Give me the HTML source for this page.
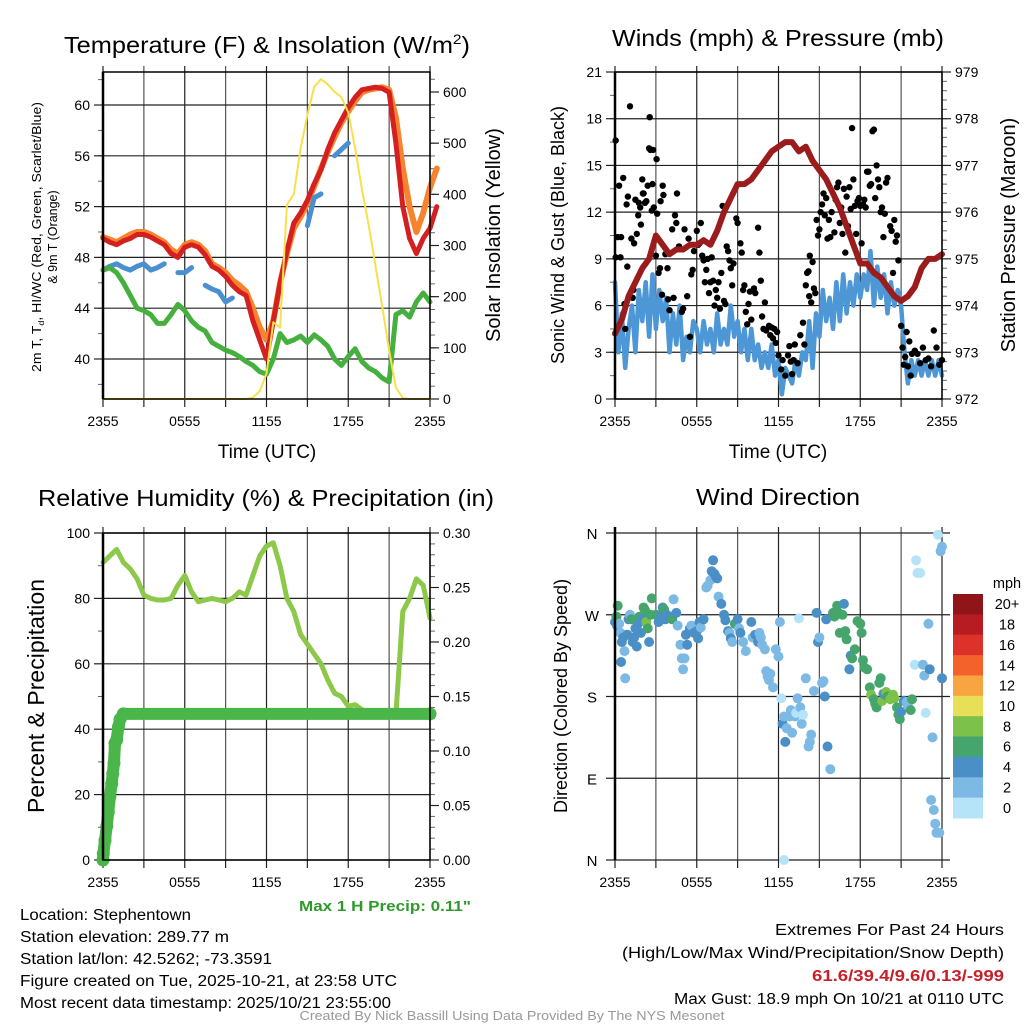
<!DOCTYPE html>
<html><head><meta charset="utf-8"><style>
html,body{margin:0;padding:0;background:#fff;}
svg{display:block;font-family:"Liberation Sans",Arial,sans-serif;}
.t{font-family:"Liberation Sans Narrow","Liberation Sans",sans-serif;}
</style></head><body>
<svg id="fig" width="1024" height="1024" viewBox="0 0 1024 1024" xmlns="http://www.w3.org/2000/svg">
<rect width="1024" height="1024" fill="#fff"/>
<g id="g1"></g>
<g id="g2"></g>
<g id="g3"></g>
<g id="g4"></g>

<text x="267" y="53" font-size="23" text-anchor="middle" textLength="406" lengthAdjust="spacingAndGlyphs">Temperature (F) &amp; Insolation (W/m<tspan font-size="14" dy="-9">2</tspan><tspan dy="9">)</tspan></text>
<text x="778" y="46" font-size="23" text-anchor="middle" textLength="332" lengthAdjust="spacingAndGlyphs">Winds (mph) &amp; Pressure (mb)</text>
<text x="266" y="506" font-size="23" text-anchor="middle" textLength="456" lengthAdjust="spacingAndGlyphs">Relative Humidity (%) &amp; Precipitation (in)</text>
<text x="778" y="505" font-size="23" text-anchor="middle" textLength="164" lengthAdjust="spacingAndGlyphs">Wind Direction</text>

<text x="267" y="458" font-size="19" text-anchor="middle">Time (UTC)</text>
<text x="778" y="458" font-size="19" text-anchor="middle">Time (UTC)</text>

<text transform="translate(41,237) rotate(-90)" font-size="12.5" text-anchor="middle" textLength="270" lengthAdjust="spacingAndGlyphs">2m T, T<tspan font-size="8" dy="3">d</tspan><tspan dy="-3">, HI/WC (Red, Green, Scarlet/Blue)</tspan></text>
<text transform="translate(57,237) rotate(-90)" font-size="12.5" text-anchor="middle">&amp; 9m T (Orange)</text>
<text transform="translate(500,235) rotate(-90)" font-size="20" text-anchor="middle">Solar Insolation (Yellow)</text>
<text transform="translate(564,235) rotate(-90)" font-size="18" text-anchor="middle">Sonic Wind &amp; Gust (Blue, Black)</text>
<text transform="translate(1015,235) rotate(-90)" font-size="20" text-anchor="middle">Station Pressure (Maroon)</text>
<text transform="translate(44,696) rotate(-90)" font-size="23" text-anchor="middle">Percent &amp; Precipitation</text>
<text transform="translate(567,696) rotate(-90)" font-size="18" text-anchor="middle">Direction (Colored By Speed)</text>

<text class="t" x="385" y="911" font-size="15" font-weight="bold" fill="#2e9a2a" text-anchor="middle" textLength="172" lengthAdjust="spacingAndGlyphs">Max 1 H Precip: 0.11"</text>

<g class="t" font-size="15.5">
<text x="20" y="920" textLength="171" lengthAdjust="spacingAndGlyphs">Location: Stephentown</text>
<text x="20" y="942" textLength="209" lengthAdjust="spacingAndGlyphs">Station elevation: 289.77 m</text>
<text x="20" y="964" textLength="252" lengthAdjust="spacingAndGlyphs">Station lat/lon: 42.5262; -73.3591</text>
<text x="20" y="986" textLength="377" lengthAdjust="spacingAndGlyphs">Figure created on Tue, 2025-10-21, at 23:58 UTC</text>
<text x="20" y="1008" textLength="371" lengthAdjust="spacingAndGlyphs">Most recent data timestamp: 2025/10/21 23:55:00</text>
</g>
<g class="t" font-size="15.5" text-anchor="end">
<text x="1004" y="935" textLength="229" lengthAdjust="spacingAndGlyphs">Extremes For Past 24 Hours</text>
<text x="1004" y="958" textLength="382" lengthAdjust="spacingAndGlyphs">(High/Low/Max Wind/Precipitation/Snow Depth)</text>
<text x="1004" y="981" font-weight="bold" fill="#c8202a" textLength="192" lengthAdjust="spacingAndGlyphs">61.6/39.4/9.6/0.13/-999</text>
<text x="1004" y="1004" textLength="330" lengthAdjust="spacingAndGlyphs">Max Gust: 18.9 mph On 10/21 at 0110 UTC</text>
</g>
<text class="t" x="512" y="1020" font-size="12.5" fill="#999" text-anchor="middle" textLength="425" lengthAdjust="spacingAndGlyphs">Created By Nick Bassill Using Data Provided By The NYS Mesonet</text>
</svg>
<script>
// ---------- DATA ----------
const xTickLabels = ["2355","0555","1155","1755","2355"];
const tempTicks = [40,44,48,52,56,60];
const solarTicks = [0,100,200,300,400,500,600];
const windTicks = [0,3,6,9,12,15,18,21];
const pressTicks = [972,973,974,975,976,977,978,979];
const rhTicks = [0,20,40,60,80,100];
const precipTicks = ["0.00","0.05","0.10","0.15","0.20","0.25","0.30"];
const dirTickLabels = ["N","E","S","W","N"];
const speedBinLabels = ["0","2","4","6","8","10","12","14","16","18","20+"];

// half-hour series (index*0.5 h)
const temp2m = [49.5,49.2,49,49.3,49.5,49.8,49.8,49.6,49.3,49,48.3,48,48.8,49,48.8,48.2,47.3,47,46.5,45.8,45.3,45,43,41.5,40,43,46,48.5,50.7,51.5,52.5,53.8,54.9,56.5,57.8,58.8,59.8,60.6,61.2,61.3,61.4,61.3,61,57,52,49.5,48.3,49.5,50.3,52];
const temp9m = [49.6,49.4,49.2,49.5,49.8,50,50,49.8,49.5,49.2,48.6,48.3,49,49.2,49,48.5,47.5,47.2,46.8,46.2,45.8,45.3,44,42.5,41.5,43,46,48.3,50.3,51.2,52.3,53.6,55,56.3,57.5,58.6,59.5,60.3,61,61.2,61.3,61.4,61.2,59,55,52,50,51.5,53.5,55];
const tempHiWc = [47,47.3,47.5,47.2,47,47.3,47.5,47,47.2,47.5,null,46.8,46.8,47.2,null,45.8,45.5,45.3,44.5,44.8,null,43,null,null,null,null,null,null,49.3,null,50.5,52.7,53,null,56,56.5,57,null,null,null,null,null,null,null,null,null,null,null,null,null];
const dewpoint = [47,47.2,46.8,46,45,44,43.8,43.5,42.8,42.8,43.5,44.3,43.8,43,42.5,42.2,41.3,41,40.7,40.5,40.2,39.8,39.5,39,38.8,40,42,41.3,41.5,41.8,41.3,41.9,41.5,41,40,39.5,40.2,40.8,39.8,39.3,39,38.5,38.2,43.5,43.8,43.3,44.5,45.2,44.5];
const solar = [0,0,0,0,0,0,0,0,0,0,0,0,0,0,0,0,0,0,0,0,0,0,3,15,50,150,140,380,400,490,555,610,625,615,600,590,560,490,410,340,260,180,95,22,2,0,0,0,0];
const pressure = [973.4,973.7,974.2,974.5,974.8,975.0,975.5,975.3,975.1,975.2,975.2,975.3,975.3,975.4,975.3,975.6,976.0,976.3,976.6,976.6,976.7,976.9,977.1,977.3,977.4,977.5,977.5,977.3,977.4,977.1,976.9,976.7,976.4,976.1,975.7,975.3,974.9,974.9,974.7,974.6,974.4,974.2,974.1,974.2,974.4,974.8,975.0,975.0,975.1];
const rh = [91,93,95,91,89,86,81,80,79.5,79.5,80,84,87,82,79,79.5,80,79.5,79,80,82,81,87,93,96,97,90,80,76,69,66,63,60,55,51,50,47,47.5,46,45,44.5,44,44.5,44.5,76,80,86,84,74];
// quarter-hour sonic wind
const sonicWind = [7.5,3,5.5,2,4.5,6,3,7,5,7.5,4,8,4.5,7,5,6.5,3,5.5,3.5,6,2.5,4,3,5,4.5,3,5,3.5,4.5,3,5.5,3.5,4.5,3.5,6,4,5,3,4.5,2.5,4.5,2.5,3.5,2,3,2,3.5,1.5,2.5,0.3,2,1.5,1,2.5,1.5,3,2.5,5,2,5.5,4,7,5,6.5,4.5,7.5,5,8,5.5,7.5,6,8,6.5,8,7,9.5,6,8.5,6.5,8,5.5,7.5,6,7,6,3,1,2.5,1.5,2.5,1.5,2.5,1.5,2.5,1.5,2.5,1.5];
const gustTimes = [0.05,0.05,0.2,0.3,0.4,0.45,0.6,0.7,0.75,0.85,0.9,0.95,1.1,1.2,1.3,1.35,1.4,1.5,1.6,1.7,1.75,1.85,1.9,2,2.05,2.1,2.2,2.3,2.4,2.5,2.55,2.6,2.7,2.75,2.8,2.85,3,3.05,3.1,3.2,3.3,3.35,3.45,3.5,3.55,3.7,3.85,3.9,4,4.2,4.3,4.4,4.5,4.55,4.7,4.9,5,5.1,5.3,5.4,5.5,5.6,5.7,5.8,6,6.1,6.2,6.3,6.4,6.5,6.6,6.7,6.8,6.9,7,7.1,7.2,7.3,7.4,7.5,7.6,7.7,7.8,7.9,8,8.1,8.2,8.3,8.4,8.5,8.6,8.7,8.9,9,9.2,9.3,9.4,9.5,9.6,9.7,9.8,9.9,10,10.2,10.3,10.5,10.6,10.7,10.8,10.9,11,11.1,11.3,11.4,11.5,11.6,11.7,11.8,11.9,12,12.2,12.3,12.5,12.7,12.8,12.9,13,13.1,13.2,13.4,13.6,13.8,13.9,14,14.1,14.2,14.25,14.3,14.4,14.5,14.6,14.7,14.8,14.9,15,15.1,15.2,15.3,15.4,15.5,15.6,15.7,15.8,15.9,16.1,16.2,16.3,16.4,16.5,16.6,16.7,16.8,16.9,17,17.1,17.2,17.3,17.4,17.5,17.6,17.7,17.8,17.9,18,18.1,18.2,18.3,18.4,18.5,18.6,18.7,18.8,18.9,19,19.1,19.2,19.3,19.4,19.5,19.6,19.7,19.8,19.9,20,20.2,20.3,20.4,20.5,20.6,20.7,20.8,21,21.1,21.2,21.3,21.4,21.5,21.6,21.7,21.8,22,22.2,22.4,22.6,22.8,23,23.2,23.4,23.6,23.8,24];
const gustValues = [16.6,9.1,10.4,13.7,9.1,10.4,14.2,6.1,4.5,12.5,8.5,13,18.8,10.3,6.5,7,10,12.8,10.6,11.8,12.6,12.3,11.2,14.1,13.2,13.2,12.6,12.7,13.7,16.1,18.1,16,12.1,13.8,16,12.3,9.2,15.4,11.9,8.1,8.4,12.7,6.7,13.7,13.1,9.3,8.4,6.4,5.7,10.9,6.5,11.8,11.3,13.2,9.8,5.6,5.8,10.9,6.6,10.3,4,8,8.3,9.5,10.8,9.9,10,11.3,9.2,8.9,7.5,8.3,9,6.8,7.5,9.1,7.6,6,7,6.5,7.5,5.8,8.1,12.4,6.3,6.1,9.8,9.5,8.9,8.4,7.3,8.7,11.6,11.3,10,9.4,7,7.3,5.6,4.8,6.1,6.9,5.1,7.1,6.8,11,9.4,7.6,5.3,4.5,6.2,4.4,4.7,4.1,4.6,3.9,4.5,3.6,4.3,2.8,1.9,2.5,1.5,2.8,3.4,2.4,1.6,2.5,3.5,2.3,4.1,4.9,3.5,7.3,8.1,8.2,6.6,9.2,6.2,8.8,7.1,6.8,11.5,10.5,10.9,12,12.5,13.2,11.8,12.9,10.3,11.5,10.4,12,10.7,12.8,13.6,13.9,11.3,12.3,10.6,13.5,9.4,13,11.1,13.6,12.2,17.4,14.1,12.4,10.6,12.7,12.9,12.4,10,12.5,12.8,12.3,14.6,14.6,13.7,13.8,17.2,17.3,12.9,15,14.1,13.6,12,12.3,10.4,11.9,13.9,14.2,11.1,10.8,8.1,11.5,10.1,10.5,8.9,4.7,3.3,2.2,2.7,4.3,2.1,3.7,1.5,2.9,3.1,2.9,2.3,3.3,2.5,2.6,2.1,4.4,3.3,2.2,2.5];
const precipTimes = [0,0.02,0.15,0.27,0.39,0.51,0.64,0.71,0.81,0.88,1.0,1.13,1.25,1.49,24];
const precipValues = [0,0.006,0.018,0.031,0.044,0.058,0.07,0.079,0.089,0.107,0.11,0.122,0.129,0.134,0.134];
const dirTimes = [0,0.1,0.2,0.15,0.3,0.4,0.5,0.6,0.45,0.7,0.75,0.9,1,1.1,1.2,1.3,1.4,1.5,1.6,1.7,1.8,1.9,2,2.1,2.2,2.3,2.4,2.5,2.6,2.7,3,3.2,3.4,3.5,3.6,3.7,3.8,4,4.2,4.3,4.5,4.6,4.8,4.9,5,5.1,5.2,5.3,5.5,5.6,5.8,6,6.1,6.2,6.3,6.5,6.7,6.8,7,7.1,7.2,7.3,7.4,7.5,7.6,7.8,8,8.1,8.3,8.4,8.5,8.6,8.8,9,9.1,9.2,9.4,9.6,10,10.1,10.3,10.5,10.6,10.7,10.8,11,11.1,11.2,11.3,11.4,11.6,11.8,12,12.1,12.2,12.3,12.4,12.5,12.6,12.8,12.9,13,13.2,13.3,13.4,13.5,13.6,13.7,13.8,14,14.2,14.3,14.4,14.6,14.8,14.9,15,15.2,15.3,15.4,15.5,15.6,15.8,16,16.1,16.3,16.4,16.5,16.7,16.8,16.9,17,17.2,17.3,17.4,17.6,17.8,18,18.1,18.2,18.3,18.5,18.7,18.8,19,19.1,19.2,19.4,19.5,19.6,19.7,19.9,20,20.2,20.4,20.5,20.7,20.8,20.9,21,21.2,21.4,21.5,21.7,21.8,22,22.1,22.2,22.4,22.6,22.7,22.8,23,23.1,23.2,23.3,23.4,23.5,23.6,23.7,23.8,23.9,24,24,12.4];
const dirDegrees = [262,268,280,258,260,250,240,245,218,230,200,248,265,270,265,240,245,255,235,260,268,250,265,278,275,262,255,240,270,288,270,262,270,278,276,265,270,268,265,287,272,258,237,222,210,222,248,237,255,258,250,252,244,262,256,265,300,302,308,318,330,315,312,310,290,282,270,264,252,250,244,240,260,265,255,250,240,230,262,245,248,240,250,245,237,232,208,202,198,205,190,232,224,262,178,150,158,130,145,158,165,140,158,162,178,266,168,150,160,200,125,130,138,186,272,240,245,195,197,180,265,125,100,272,268,280,272,250,270,282,252,243,210,225,222,232,263,260,250,220,212,210,190,182,177,172,168,195,200,175,183,185,180,177,182,178,168,160,155,163,175,174,170,165,177,215,330,316,316,215,203,162,260,210,66,135,55,40,30,358,30,340,200,345,0];
const dirSpeeds = [4,7,6,5,3,3,4,4,4,3,2,4,5,3,7,4,4,4,4,4,7,4,5,6,6,8,7,5,7,6,6,5,4,4,6,4,5,4,6,2,4,3,2,2,2,2,4,4,4,3,4,4,4,4,3,4,3,3,2,4,4,4,4,4,3,4,4,4,4,3,4,3,6,4,3,4,3,3,4,3,4,4,3,3,3,3,2,3,3,2,3,2,3,3,1,4,3,4,3,2,2,3,2,1,3,1,2,2,1,3,3,3,3,3,4,4,3,3,3,4,4,4,2,6,6,7,7,7,7,5,6,6,4,5,6,6,6,6,6,6,6,7,6,8,6,7,6,6,7,8,4,8,6,8,8,8,6,6,6,5,4,3,3,6,7,1,1,1,1,2,2,1,3,4,2,3,2,3,3,1,2,2,4,2,1];
const binColors = ["#b5e4f8","#7db9e5","#4b8fc7","#46a56c","#7cc14a","#e6df57","#f8a541","#f3622b","#dd3229","#b61c22","#8f1518"];

// ---------- HELPERS ----------
const NS="http://www.w3.org/2000/svg";
function mk(parent,tag,attrs){const e=document.createElementNS(NS,tag);for(const k in attrs)e.setAttribute(k,attrs[k]);parent.appendChild(e);return e;}
function lin(d0,d1,r0,r1){return v=>r0+(v-d0)/(d1-d0)*(r1-r0);}
const X0=103,X1=430,X2=615,X3=942;
function pathFrom(ts,vs,xs,ys){let d="",pen=false;for(let i=0;i<vs.length;i++){if(vs[i]===null||vs[i]===undefined){pen=false;continue;}d+=(pen?"L":"M")+xs(ts[i]).toFixed(1)+","+ys(vs[i]).toFixed(1);pen=true;}return d;}
function halfT(n){const a=[];for(let i=0;i<n;i++)a.push(i*0.5);return a;}
function qT(n){const a=[];for(let i=0;i<n;i++)a.push(i*0.25);return a;}

function frame(g,x0,x1,y0,y1,xs){
  for(let h=0;h<=24;h+=3){
    const gl=mk(g,"line",{x1:xs(h),x2:xs(h),y1:y0-6,y2:y1,stroke:h%6===0?"#222":"#555","stroke-width":1.2});
    
    
    const tk=mk(g,"line",{x1:xs(h),x2:xs(h),y1:y1,y2:y1+8,stroke:"#222","stroke-width":1.2});
    
    
  }
  xTickLabels.forEach((l,i)=>{
    const t=mk(g,"text",{x:xs(i*6),y:y1+27,"font-size":14,"text-anchor":"middle"});t.textContent=l;
    
    
  });
}
function box(g,x0,x1,y0,y1){
  const r=mk(g,"rect",{x:x0,y:y0,width:x1-x0,height:y1-y0,fill:"none",stroke:"#000","stroke-width":1.5});
  
  
  const l=mk(g,"line",{x1:x0,x2:x0,y1:y0,y2:y1,stroke:"#000","stroke-width":2.5});
  
  
}
function yAxis(g,ticks,labels,ys,x,side,grid,xA,xB,minor){
  if(minor){minor.forEach(v=>{const m=mk(g,"line",{x1:x,x2:x+(side<0?-5:5),y1:ys(v),y2:ys(v),stroke:"#666","stroke-width":1});
    
    });}
  ticks.forEach((v,i)=>{
    if(grid){const gl=mk(g,"line",{x1:xA,x2:xB,y1:ys(v),y2:ys(v),stroke:"#222","stroke-width":1.2});
      
      }
    const tk=mk(g,"line",{x1:x,x2:x+(side<0?-9:9),y1:ys(v),y2:ys(v),stroke:"#222","stroke-width":1.2});
    
    
    const t=mk(g,"text",{x:x+(side<0?-13:13),y:ys(v)+5,"font-size":14,"text-anchor":side<0?"end":"start"});
    t.textContent=labels[i];
    
    
  });
}
function line(g,d,color,w,name){const p=mk(g,"path",{d:d,fill:"none",stroke:color,"stroke-width":w,"stroke-linejoin":"round","stroke-linecap":"round"});
  
  return p;}
function range(a,b,s){const r=[];for(let v=a;v<=b+1e-9;v+=s)r.push(+v.toFixed(3));return r;}

// ---------- PANEL 1: temperature ----------
(function(){
  const g=document.getElementById("g1");
  const Y0=72,Y1=399;
  const xs=lin(0,24,X0,X1);
  const ys=lin(40,60,359,105);
  const ss=lin(0,600,399,92);
  frame(g,X0,X1,Y0,Y1,xs);
  yAxis(g,tempTicks,tempTicks.map(String),ys,X0,-1,true,X0,X1,range(38,62,2));
  yAxis(g,solarTicks,solarTicks.map(String),ss,X1,1,false,0,0,range(0,625,25));
  const T=halfT(50);
  line(g,pathFrom(T,temp9m,xs,ys),"#f7842c",6,"temp-9m-line");
  line(g,pathFrom(T,tempHiWc,xs,ys),"#4a8fd0",5,"heat-index-windchill-line");
  line(g,pathFrom(T,dewpoint,xs,ys),"#46b03e",5,"dewpoint-line");
  line(g,pathFrom(T,temp2m,xs,ys),"#d42020",5,"temp-2m-line");
  line(g,pathFrom(T,solar,xs,ss),"#f9e04a",2,"solar-insolation-line");
  box(g,X0,X1,Y0,Y1);
})();

// ---------- PANEL 2: wind & pressure ----------
(function(){
  const g=document.getElementById("g2");
  const Y0=72,Y1=399;
  const xs=lin(0,24,X2,X3);
  const ws=lin(0,21,399,72);
  const ps=lin(972,979,399,72);
  frame(g,X2,X3,Y0,Y1,xs);
  yAxis(g,windTicks,windTicks.map(String),ws,X2,-1,true,X2,X3,range(0,21,1.5));
  yAxis(g,pressTicks,pressTicks.map(String),ps,X3,1,false,0,0,range(972,979,0.2));
  line(g,pathFrom(qT(97),sonicWind,xs,ws),"#4e97d6",4.5,"sonic-wind-line");
  gustTimes.forEach((t,i)=>{
    const c=mk(g,"circle",{cx:xs(t).toFixed(1),cy:ws(gustValues[i]).toFixed(1),r:3.2,fill:"#000"});
    
    
  });
  line(g,pathFrom(halfT(49),pressure,xs,ps),"#9b1c1c",6,"pressure-line");
  box(g,X2,X3,Y0,Y1);
})();

// ---------- PANEL 3: RH & precip ----------
(function(){
  const g=document.getElementById("g3");
  const Y0=533,Y1=860;
  const xs=lin(0,24,X0,X1);
  const ys=lin(0,100,860,533);
  const ps=lin(0,0.30,860,533);
  frame(g,X0,X1,Y0,Y1,xs);
  yAxis(g,rhTicks,rhTicks.map(String),ys,X0,-1,true,X0,X1,range(10,90,20));
  yAxis(g,precipTicks.map(Number),precipTicks,ps,X1,1,false,0,0,range(0,0.3,0.01));
  line(g,pathFrom(halfT(49),rh,xs,ys),"#8dc84b",5,"humidity-line");
  line(g,pathFrom(precipTimes,precipValues,xs,ps),"#4ab548",12,"precipitation-line");
  precipTimes.forEach((t,i)=>{
    const c=mk(g,"circle",{cx:xs(t).toFixed(1),cy:ps(precipValues[i]).toFixed(1),r:6.5,fill:"#4ab548"});
    
    
  });
  box(g,X0,X1,Y0,Y1);
})();

// ---------- PANEL 4: wind direction ----------
(function(){
  const g=document.getElementById("g4");
  const Y0=533,Y1=860;
  const xs=lin(0,24,X2,X3);
  const ds=lin(0,360,860,533);
  frame(g,X2,X3,Y0,Y1,xs);
  [0,90,180,270,360].forEach((v,i)=>{
    const gl=mk(g,"line",{x1:X2-9,x2:X3+8,y1:ds(v),y2:ds(v),stroke:"#222","stroke-width":1.2});
    
    
    const t=mk(g,"text",{x:X2-23,y:ds(v)+6,"font-size":15,"text-anchor":"middle"});
    t.textContent=dirTickLabels[i];
    
    
  });
  dirTimes.forEach((t,i)=>{
    const b=Math.min(10,Math.floor(dirSpeeds[i]/2));
    const c=mk(g,"circle",{cx:xs(t).toFixed(1),cy:ds(dirDegrees[i]).toFixed(1),r:5,fill:binColors[b]});
    
    
  });
  const l=mk(g,"line",{x1:X2,x2:X2,y1:Y0-6,y2:Y1,stroke:"#000","stroke-width":2.5});
  
  
  const cb=mk(g,"g",{});
  
  
  const segH=(818-594)/11;
  speedBinLabels.forEach((lab,i)=>{
    const idx=10-i;
    const y=594+i*segH;
    const r=mk(cb,"rect",{x:953,y:y.toFixed(1),width:30,height:(segH+0.5).toFixed(1),fill:binColors[idx]});
    
    
    const t=mk(cb,"text",{x:1007,y:(y+segH/2+5).toFixed(1),"font-size":14.5,"text-anchor":"middle"});
    t.textContent=speedBinLabels[idx];
    
    
  });
  const mt=mk(cb,"text",{x:1007,y:588,"font-size":14.5,"text-anchor":"middle"});
  mt.textContent="mph";
  
  
})();
</script>
</body></html>
